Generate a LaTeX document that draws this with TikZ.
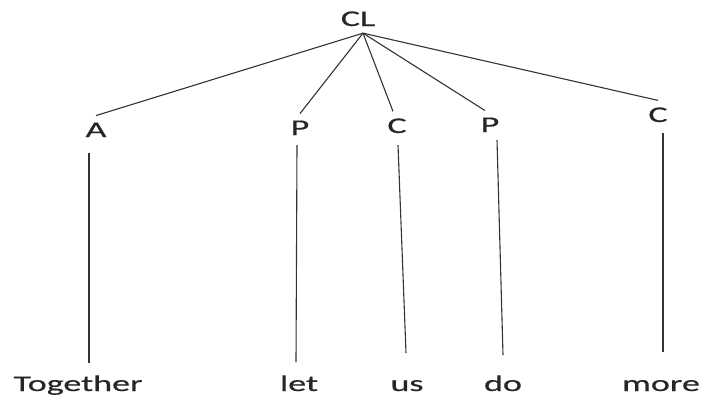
\documentclass[tikz,border=0pt]{standalone}
\usepackage{fontspec}
\setmainfont{Carlito}[FakeStretch=1.6,FakeBold=0.6]
\begin{document}
\begin{tikzpicture}[x=1pt,y=-1pt,line width=1.1pt,
  lbl/.style={anchor=base,inner sep=4pt,outer sep=3pt,text=black!85,font=\fontsize{22.5}{25}\selectfont},
  word/.style={lbl,text height=14pt}]
\useasboundingbox (0,0) rectangle (703,400);
% labels
\node[lbl] (CL) at (358,26) {CL};
\node[lbl] (A)  at (96,137)  {A};
\node[lbl] (P1) at (300,135) {P};
\node[lbl] (C1) at (397,133) {C};
\node[lbl] (P2) at (490,132) {P};
\node[lbl] (C2) at (658,122) {C};
% words
\node[word] (w1) at (78,391)  {Together};
\node[word] (w2) at (299,391) {let};
\node[word] (w3) at (407,391) {us};
\node[word] (w4) at (503,391) {do};
\node[word] (w5) at (661,391) {more};
% branches
\draw[black!80] ([xshift=5]CL.south) -- (A.north);
\draw[black!80] ([xshift=5]CL.south) -- (P1.north);
\draw[black!80] ([xshift=5]CL.south) -- ([xshift=-4]C1.north);
\draw[black!80] ([xshift=5]CL.south) -- ([xshift=-5]P2.north);
\draw[black!80] ([xshift=5]CL.south) -- (C2.north);
% stems
\draw[black!80] ([xshift=-7,yshift=-9]A.south) -- ([xshift=11,yshift=7]w1.north);
\draw[black!80] ([xshift=-3,yshift=-3]P1.south) -- ([xshift=-3,yshift=8]w2.north);
\draw[black!80] ([xshift=1,yshift=-5]C1.south) -- ([xshift=-1,yshift=17]w3.north);
\draw[black!80] ([xshift=7,yshift=-1]P2.south) -- ([yshift=15]w4.north);
\draw[black!80] ([xshift=5,yshift=-4]C2.south) -- ([xshift=2,yshift=18]w5.north);
\end{tikzpicture}
\end{document}
